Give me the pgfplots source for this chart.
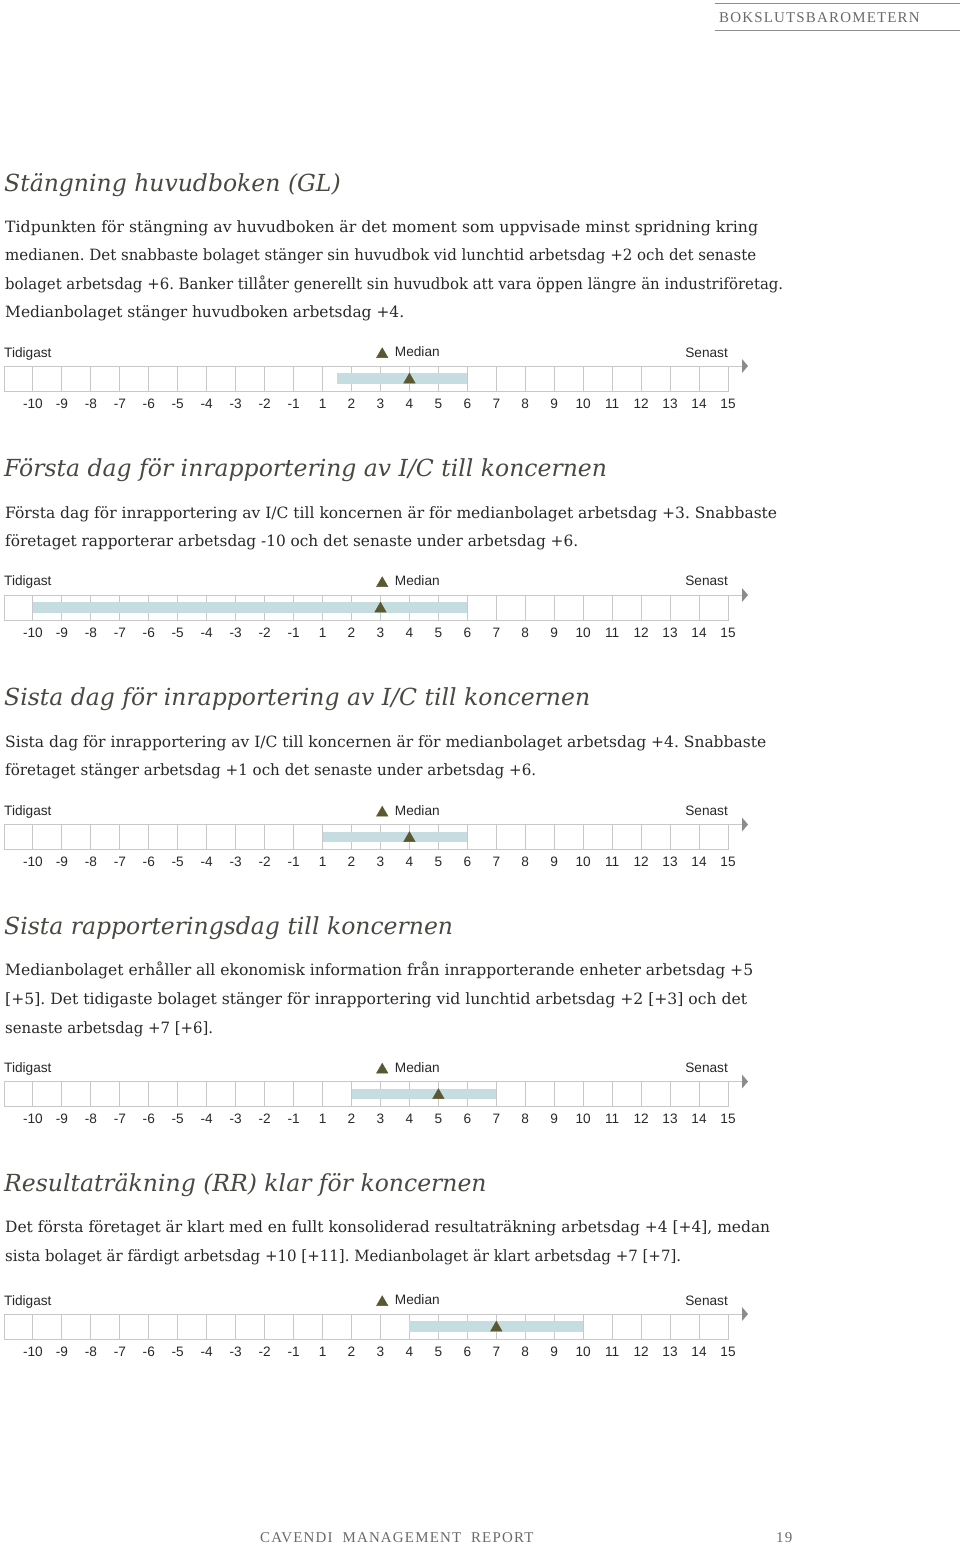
\documentclass[border=0pt]{standalone}
\usepackage{fontspec}
\usepackage{graphicx}
\setmainfont{DejaVu Serif}
\newfontfamily\arial{Liberation Sans}
\newfontfamily\capsfont[LetterSpace=8]{Liberation Serif}
\usepackage{pgfplots}
\pgfplotsset{compat=1.18}
\usetikzlibrary{arrows.meta,calc}
\definecolor{bodytext}{RGB}{40,40,40}
\definecolor{headtext}{RGB}{72,74,66}
\definecolor{ticktext}{RGB}{40,40,40}
\definecolor{gridgray}{RGB}{200,200,200}
\definecolor{arrowgray}{RGB}{140,140,140}
\definecolor{barblue}{RGB}{197,220,224}
\definecolor{olive}{RGB}{90,88,48}
\definecolor{capsgray}{RGB}{105,105,105}
\frenchspacing
\newcommand{\bodyfont}{\fontsize{15.6}{18}\selectfont}
\newcommand{\headfont}{\itshape\fontsize{23.6}{28}\selectfont}
\newcommand{\labfont}{\arial\fontsize{13.7}{16}\selectfont}
\pgfplotsset{timeline/.style={
  scale only axis, width=724bp, height=25bp,
  xmin=0, xmax=25, ymin=0, ymax=1,
  xtick={1,...,25},
  xticklabels={-10,-9,-8,-7,-6,-5,-4,-3,-2,-1,1,2,3,4,5,6,7,8,9,10,11,12,13,14,15},
  ytick=\empty, xmajorgrids,
  grid style={gridgray, line width=1bp},
  axis line style={gridgray, line width=1bp},
  major tick length=0pt,
  xticklabel style={font=\labfont, text=ticktext, anchor=north, text height=10bp, text depth=0bp, inner sep=0pt, yshift=-7bp},
  anchor=south west, clip=false,
  legend style={draw=none, fill=none, inner sep=0pt, outer sep=0pt,
    font=\labfont, text=ticktext,
    /tikz/every odd column/.append style={column sep=5bp},
    at={(axis cs:13.07,1)}, anchor=south west, xshift=-6bp, yshift=6bp},
  legend image code/.code={\draw[#1] plot[only marks] coordinates {(0bp,-2bp)};},
},
tlbar/.style={barblue, line width=10.5bp},
tlmed/.style={only marks, mark=triangle*, mark size=6.6bp, color=olive}}
\newcommand{\arrowline}{\draw[gridgray, line width=1bp] (rel axis cs:1,1) -- ++(14bp,0);
  \fill[arrowgray] ($(rel axis cs:1,1)+(14bp,7bp)$) -- ++(6bp,-7bp) -- ++(-6bp,-7bp) -- cycle;}
\newcommand{\lab}[1]{%
  \node[anchor=base west, inner sep=0, font=\labfont, text=ticktext] at (4bp,-#1bp) {Tidigast};
  \node[anchor=base east, inner sep=0, font=\labfont, text=ticktext] at (728bp,-#1bp) {Senast};}
% body line: baseline y, line width, text
\newcommand{\body}[3]{\node[anchor=base west, inner sep=0, text=bodytext] at (5bp,-#1bp) {\resizebox{#2bp}{\height}{\bodyfont #3}};}
\newcommand{\head}[2]{\node[anchor=base west, inner sep=0, font=\headfont, text=headtext] at (4bp,-#1bp) {#2};}
\begin{document}
\begin{tikzpicture}
\useasboundingbox (0,0) rectangle (960bp,-1546bp);
% header
\draw[arrowgray, line width=1.3bp] (715bp,-3.3bp) -- (960bp,-3.3bp);
\draw[arrowgray, line width=1.3bp] (715bp,-30.7bp) -- (960bp,-30.7bp);
\node[anchor=base west, inner sep=0, text=capsgray, font=\capsfont\fontsize{15}{17}\selectfont] at (719bp,-22bp) {BOKSLUTSBAROMETERN};
% section 1
\head{191}{Stängning huvudboken (GL)}
\body{232}{753}{Tidpunkten för stängning av huvudboken är det moment som uppvisade minst spridning kring}
\body{260.5}{751}{medianen. Det snabbaste bolaget stänger sin huvudbok vid lunchtid arbetsdag +2 och det senaste}
\body{289}{778}{bolaget arbetsdag +6. Banker tillåter generellt sin huvudbok att vara öppen längre än industriföretag.}
\body{317.5}{399}{Medianbolaget stänger huvudboken arbetsdag +4.}
\lab{357}
\begin{axis}[timeline, at={(4bp,-391bp)}]
\addplot[tlbar, forget plot] coordinates {(11.5,0.5) (16,0.5)};
\addplot[tlmed] coordinates {(14,0.45)};
\addlegendentry{Median}
\arrowline
\end{axis}
% section 2
\head{476}{Första dag för inrapportering av I/C till koncernen}
\body{518}{772}{Första dag för inrapportering av I/C till koncernen är för medianbolaget arbetsdag +3. Snabbaste}
\body{546.5}{573}{företaget rapporterar arbetsdag -10 och det senaste under arbetsdag +6.}
\lab{585}
\begin{axis}[timeline, at={(4bp,-620bp)}]
\addplot[tlbar, forget plot] coordinates {(1,0.5) (16,0.5)};
\addplot[tlmed] coordinates {(13,0.45)};
\addlegendentry{Median}
\arrowline
\end{axis}
% section 3
\head{705}{Sista dag för inrapportering av I/C till koncernen}
\body{747}{761}{Sista dag för inrapportering av I/C till koncernen är för medianbolaget arbetsdag +4. Snabbaste}
\body{775.5}{531}{företaget stänger arbetsdag +1 och det senaste under arbetsdag +6.}
\lab{815}
\begin{axis}[timeline, at={(4bp,-849.5bp)}]
\addplot[tlbar, forget plot] coordinates {(11,0.5) (16,0.5)};
\addplot[tlmed] coordinates {(14,0.45)};
\addlegendentry{Median}
\arrowline
\end{axis}
% section 4
\head{934}{Sista rapporteringsdag till koncernen}
\body{975}{748}{Medianbolaget erhåller all ekonomisk information från inrapporterande enheter arbetsdag +5}
\body{1004}{742}{[+5]. Det tidigaste bolaget stänger för inrapportering vid lunchtid arbetsdag +2 [+3] och det}
\body{1033}{208}{senaste arbetsdag +7 [+6].}
\lab{1072}
\begin{axis}[timeline, at={(4bp,-1106.5bp)}]
\addplot[tlbar, forget plot] coordinates {(12,0.5) (17,0.5)};
\addplot[tlmed] coordinates {(15,0.45)};
\addlegendentry{Median}
\arrowline
\end{axis}
% section 5
\head{1191}{Resultaträkning (RR) klar för koncernen}
\body{1232}{765}{Det första företaget är klart med en fullt konsoliderad resultaträkning arbetsdag +4 [+4], medan}
\body{1261}{676}{sista bolaget är färdigt arbetsdag +10 [+11]. Medianbolaget är klart arbetsdag +7 [+7].}
\lab{1305}
\begin{axis}[timeline, at={(4bp,-1339bp)}]
\addplot[tlbar, forget plot] coordinates {(14,0.5) (20,0.5)};
\addplot[tlmed] coordinates {(17,0.45)};
\addlegendentry{Median}
\arrowline
\end{axis}
% footer
\node[anchor=base west, inner sep=0, text=capsgray, font=\capsfont\fontsize{15}{17}\selectfont] at (260bp,-1542bp) {CAVENDI\ \ MANAGEMENT\ \ REPORT};
\node[anchor=base west, inner sep=0, text=capsgray, font=\capsfont\fontsize{15}{17}\selectfont] at (776bp,-1542bp) {19};
\end{tikzpicture}
\end{document}
